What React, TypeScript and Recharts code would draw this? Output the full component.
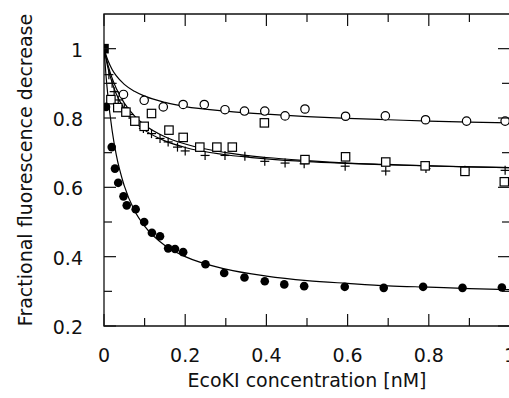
import React from 'react';
import { ComposedChart, Scatter, Line, XAxis, YAxis, ReferenceArea } from 'recharts';

// ---- data ----
const originPoint = [{ x: 0, y: 1 }];

const filledCircles = [
  { x: 0.005, y: 0.832 }, { x: 0.019, y: 0.716 }, { x: 0.027, y: 0.654 }, { x: 0.035, y: 0.613 },
  { x: 0.048, y: 0.574 }, { x: 0.056, y: 0.548 }, { x: 0.078, y: 0.537 }, { x: 0.099, y: 0.5 },
  { x: 0.118, y: 0.469 }, { x: 0.138, y: 0.459 }, { x: 0.158, y: 0.424 }, { x: 0.175, y: 0.422 },
  { x: 0.195, y: 0.413 }, { x: 0.25, y: 0.378 }, { x: 0.296, y: 0.353 }, { x: 0.346, y: 0.34 },
  { x: 0.396, y: 0.329 }, { x: 0.444, y: 0.32 }, { x: 0.493, y: 0.315 }, { x: 0.593, y: 0.313 },
  { x: 0.689, y: 0.31 }, { x: 0.786, y: 0.313 }, { x: 0.883, y: 0.31 }, { x: 0.98, y: 0.311 },
];

const openCircles = [
  { x: 0.048, y: 0.868 }, { x: 0.099, y: 0.851 }, { x: 0.146, y: 0.832 }, { x: 0.195, y: 0.839 },
  { x: 0.247, y: 0.839 }, { x: 0.298, y: 0.824 }, { x: 0.346, y: 0.82 }, { x: 0.396, y: 0.82 },
  { x: 0.446, y: 0.806 }, { x: 0.495, y: 0.826 }, { x: 0.595, y: 0.805 }, { x: 0.693, y: 0.806 },
  { x: 0.792, y: 0.795 }, { x: 0.893, y: 0.791 }, { x: 0.988, y: 0.791 },
];

const openSquares = [
  { x: 0.017, y: 0.853 }, { x: 0.034, y: 0.83 }, { x: 0.054, y: 0.817 }, { x: 0.076, y: 0.791 },
  { x: 0.099, y: 0.776 }, { x: 0.117, y: 0.813 }, { x: 0.16, y: 0.765 }, { x: 0.195, y: 0.744 },
  { x: 0.236, y: 0.716 }, { x: 0.278, y: 0.716 }, { x: 0.316, y: 0.716 }, { x: 0.395, y: 0.786 },
  { x: 0.495, y: 0.68 }, { x: 0.595, y: 0.688 }, { x: 0.694, y: 0.673 }, { x: 0.791, y: 0.662 },
  { x: 0.889, y: 0.646 }, { x: 0.986, y: 0.616 },
];

const plusMarks = [
  { x: 0.012, y: 0.925 }, { x: 0.02, y: 0.9 }, { x: 0.025, y: 0.876 }, { x: 0.035, y: 0.852 },
  { x: 0.05, y: 0.83 }, { x: 0.062, y: 0.81 }, { x: 0.076, y: 0.793 }, { x: 0.097, y: 0.77 },
  { x: 0.117, y: 0.755 }, { x: 0.138, y: 0.741 }, { x: 0.158, y: 0.731 }, { x: 0.181, y: 0.716 },
  { x: 0.2, y: 0.705 }, { x: 0.249, y: 0.692 }, { x: 0.298, y: 0.692 }, { x: 0.347, y: 0.69 },
  { x: 0.396, y: 0.675 }, { x: 0.446, y: 0.67 }, { x: 0.493, y: 0.668 }, { x: 0.594, y: 0.661 },
  { x: 0.694, y: 0.647 }, { x: 0.793, y: 0.654 }, { x: 0.889, y: 0.649 }, { x: 0.988, y: 0.649 },
];

const fitFilled = [
  { x: 0, y: 1 }, { x: 0.005, y: 0.922 }, { x: 0.01, y: 0.859 }, { x: 0.02, y: 0.764 },
  { x: 0.03, y: 0.695 }, { x: 0.05, y: 0.604 }, { x: 0.075, y: 0.533 }, { x: 0.1, y: 0.488 },
  { x: 0.15, y: 0.432 }, { x: 0.2, y: 0.4 }, { x: 0.3, y: 0.364 }, { x: 0.4, y: 0.344 },
  { x: 0.5, y: 0.331 }, { x: 0.6, y: 0.323 }, { x: 0.7, y: 0.316 }, { x: 0.8, y: 0.312 },
  { x: 0.9, y: 0.308 }, { x: 1.0, y: 0.305 },
];

const fitOpenCircles = [
  { x: 0, y: 1 }, { x: 0.01, y: 0.965 }, { x: 0.02, y: 0.94 }, { x: 0.03, y: 0.922 },
  { x: 0.05, y: 0.897 }, { x: 0.075, y: 0.877 }, { x: 0.1, y: 0.863 }, { x: 0.15, y: 0.845 },
  { x: 0.2, y: 0.833 }, { x: 0.3, y: 0.82 }, { x: 0.4, y: 0.811 }, { x: 0.5, y: 0.804 },
  { x: 0.6, y: 0.799 }, { x: 0.7, y: 0.795 }, { x: 0.8, y: 0.791 }, { x: 0.9, y: 0.788 },
  { x: 1.0, y: 0.786 },
];

const fitSquares = [
  { x: 0, y: 1 }, { x: 0.01, y: 0.952 }, { x: 0.02, y: 0.915 }, { x: 0.03, y: 0.886 },
  { x: 0.05, y: 0.843 }, { x: 0.075, y: 0.806 }, { x: 0.1, y: 0.78 }, { x: 0.15, y: 0.746 },
  { x: 0.2, y: 0.725 }, { x: 0.3, y: 0.7 }, { x: 0.4, y: 0.686 }, { x: 0.5, y: 0.677 },
  { x: 0.6, y: 0.67 }, { x: 0.7, y: 0.666 }, { x: 0.8, y: 0.662 }, { x: 0.9, y: 0.659 },
  { x: 1.0, y: 0.657 },
];

const fitPlus = [
  { x: 0, y: 1 }, { x: 0.01, y: 0.943 }, { x: 0.02, y: 0.902 }, { x: 0.03, y: 0.87 },
  { x: 0.05, y: 0.826 }, { x: 0.075, y: 0.789 }, { x: 0.1, y: 0.765 }, { x: 0.15, y: 0.734 },
  { x: 0.2, y: 0.715 }, { x: 0.3, y: 0.694 }, { x: 0.4, y: 0.682 }, { x: 0.5, y: 0.674 },
  { x: 0.6, y: 0.669 }, { x: 0.7, y: 0.665 }, { x: 0.8, y: 0.662 }, { x: 0.9, y: 0.659 },
  { x: 1.0, y: 0.657 },
];

const xTicks = [0, 0.1, 0.2, 0.3, 0.4, 0.5, 0.6, 0.7, 0.8, 0.9, 1.0];
const xTickLabels: Record<string, string> = { '0': '0', '0.2': '0.2', '0.4': '0.4', '0.6': '0.6', '0.8': '0.8', '1': '1' };
const yTicks = [0.2, 0.3, 0.4, 0.5, 0.6, 0.7, 0.8, 0.9, 1.0];
const yTickLabels: Record<string, string> = { '0.2': '0.2', '0.4': '0.4', '0.6': '0.6', '0.8': '0.8', '1': '1' };

const xTitle = 'EcoKI concentration [nM]';
const yTitle = 'Fractional fluorescence decrease';

// ---- layout ----
const W = 520;
const H = 398;
const PLOT_TOP = 14;
const PLOT_LEFT = 104;
const PLOT_RIGHT = 510;
const PLOT_BOTTOM = 326;
const FONT = '"DejaVu Sans", Verdana, sans-serif';
const FS = 19;
const INK = '#111';
const MAJOR = 12;
const MINOR = 8;

const XTick = (props: any) => {
  const { x, y, payload } = props;
  const key = String(payload.value);
  const label = xTickLabels[key];
  const len = label !== undefined ? MAJOR : MINOR;
  return (
    <g>
      <line x1={x} x2={x} y1={y} y2={y - len} stroke={INK} strokeWidth={1.2} />
      <line x1={x} x2={x} y1={PLOT_TOP} y2={PLOT_TOP + len} stroke={INK} strokeWidth={1.2} />
      {label !== undefined && (
        <text x={x} y={y + 36} textAnchor="middle" fontFamily={FONT} fontSize={FS} fill={INK}>{label}</text>
      )}
    </g>
  );
};

const YTick = (props: any) => {
  const { x, y, payload } = props;
  const key = String(payload.value);
  const label = yTickLabels[key];
  const len = label !== undefined ? MAJOR : MINOR;
  return (
    <g>
      <line x1={x} x2={x + len} y1={y} y2={y} stroke={INK} strokeWidth={1.2} />
      <line x1={PLOT_RIGHT} x2={PLOT_RIGHT - len} y1={y} y2={y} stroke={INK} strokeWidth={1.2} />
      {label !== undefined && (
        <text x={x - 21} y={y + 8} textAnchor="end" fontFamily={FONT} fontSize={FS} fill={INK}>{label}</text>
      )}
    </g>
  );
};

const FilledCircle = (p: any) => <circle cx={p.cx} cy={p.cy} r={4.3} fill="#000" />;
const OpenCircle = (p: any) => <circle cx={p.cx} cy={p.cy} r={4.2} fill="#fff" stroke="#000" strokeWidth={1.2} />;
const OpenSquare = (p: any) => <rect x={p.cx - 4.2} y={p.cy - 4.2} width={8.4} height={8.4} fill="#fff" stroke="#000" strokeWidth={1.2} />;
const FilledSquare = (p: any) => <rect x={p.cx - 4.8} y={p.cy - 4.8} width={9.6} height={9.6} fill="#000" />;
const PlusMark = (p: any) => (
  <g>
    <line x1={p.cx - 4.5} x2={p.cx + 4.5} y1={p.cy} y2={p.cy} stroke="#000" strokeWidth={1.2} />
    <line x1={p.cx} x2={p.cx} y1={p.cy - 4.5} y2={p.cy + 4.5} stroke="#000" strokeWidth={1.2} />
  </g>
);

export default function App() {
  return (
    <div style={{ position: 'absolute', left: 0, top: 0, width: 509, height: H, overflow: 'hidden', background: '#fff' }}>
      <ComposedChart
        width={W}
        height={H}
        margin={{ top: PLOT_TOP, right: W - PLOT_RIGHT, bottom: 0, left: 0 }}
      >
        <XAxis
          dataKey="x"
          type="number"
          domain={[0, 1]}
          ticks={xTicks}
          interval={0}
          allowDataOverflow
          height={H - PLOT_BOTTOM}
          axisLine={false}
          tickLine={false}
          tickSize={0}
          tickMargin={0}
          tick={<XTick />}
          label={(props: any) => (
            <text x={(PLOT_LEFT + PLOT_RIGHT) / 2} y={387} textAnchor="middle" fontFamily={FONT} fontSize={FS} fill={INK}>{xTitle}</text>
          )}
        />
        <YAxis
          dataKey="y"
          type="number"
          domain={[0.2, 1.1]}
          ticks={yTicks}
          interval={0}
          allowDataOverflow
          width={PLOT_LEFT}
          axisLine={false}
          tickLine={false}
          tickSize={0}
          tickMargin={0}
          tick={<YTick />}
          label={(props: any) => (
            <text x={32} y={170} transform="rotate(-90 32 170)" textAnchor="middle" fontFamily={FONT} fontSize={FS} fill={INK}>{yTitle}</text>
          )}
        />
        <ReferenceArea x1={0} x2={1} y1={0.2} y2={1.1} fill="none" stroke={INK} strokeWidth={1.3} ifOverflow="visible" />
        <Line data={fitOpenCircles} dataKey="y" type="monotone" stroke="#000" strokeWidth={1.2} dot={false} isAnimationActive={false} />
        <Line data={fitSquares} dataKey="y" type="monotone" stroke="#000" strokeWidth={1.2} dot={false} isAnimationActive={false} />
        <Line data={fitPlus} dataKey="y" type="monotone" stroke="#000" strokeWidth={1.2} dot={false} isAnimationActive={false} />
        <Line data={fitFilled} dataKey="y" type="monotone" stroke="#000" strokeWidth={1.2} dot={false} isAnimationActive={false} />
        <Scatter data={plusMarks} dataKey="y" shape={PlusMark} isAnimationActive={false} />
        <Scatter data={openCircles} dataKey="y" shape={OpenCircle} isAnimationActive={false} />
        <Scatter data={openSquares} dataKey="y" shape={OpenSquare} isAnimationActive={false} />
        <Scatter data={filledCircles} dataKey="y" shape={FilledCircle} isAnimationActive={false} />
        <Scatter data={originPoint} dataKey="y" shape={FilledSquare} isAnimationActive={false} />
      </ComposedChart>
    </div>
  );
}
